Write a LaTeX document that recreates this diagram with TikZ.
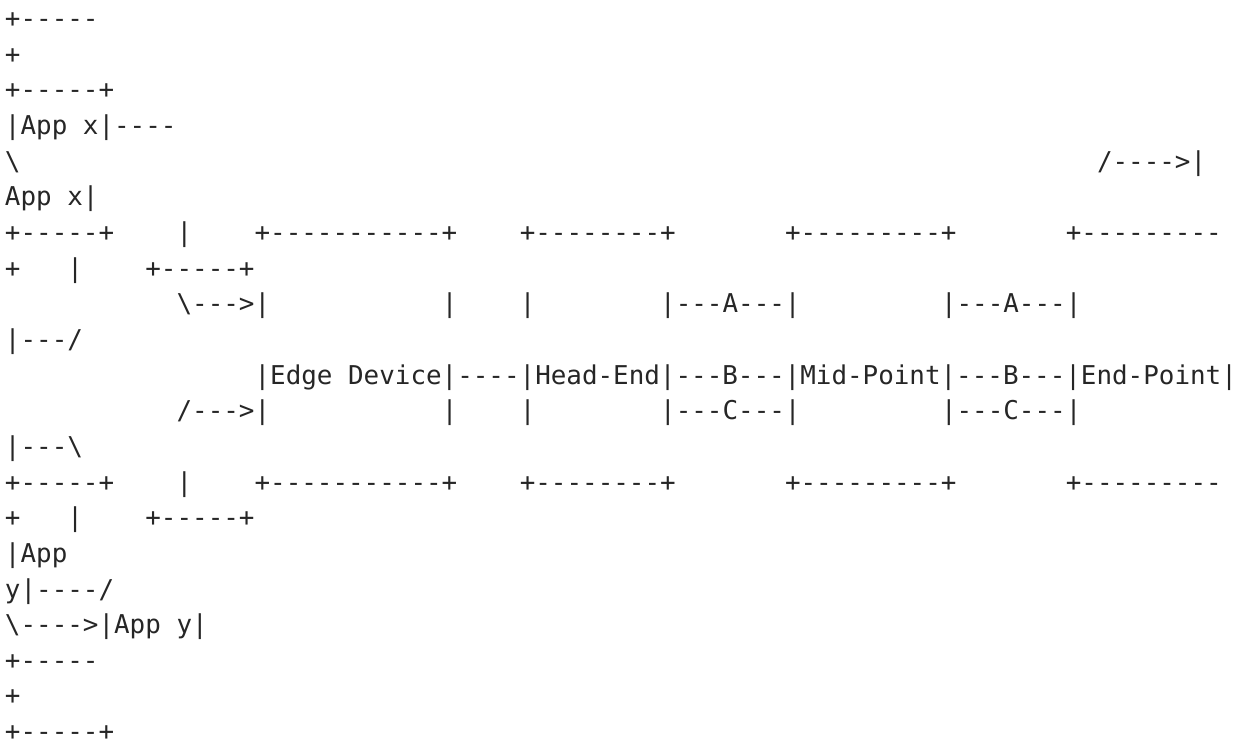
\documentclass[tikz,border=0pt]{standalone}
\usepackage{fontspec}
\setmonofont{DejaVu Sans Mono}
\begin{document}
\begin{tikzpicture}[x=1pt,y=1pt,
  asc/.style={anchor=base west,inner sep=0pt,outer sep=0pt,
    font=\ttfamily\fontsize{25.9}{30}\selectfont,text=black!85}]
\useasboundingbox (0,0) rectangle (1238,-742);
\newcommand\asciiseg[4]{\node[asc] (#1) at ({5.0+15.6*#2},{-27.6-35.65*(#3-1)}) {#4};}
% top wrapped lines
\asciiseg{a1}{0}{1}{+-----}
\asciiseg{a2}{0}{2}{+}
\asciiseg{a3}{0}{3}{+-----+}
\asciiseg{a4}{0}{4}{|App\ x|----}
\asciiseg{a5}{0}{5}{\textbackslash}
\asciiseg{a5b}{70}{5}{/---->|}
\asciiseg{a6}{0}{6}{App\ x|}
% upper box edges
\asciiseg{b1}{0}{7}{+-----+}
\asciiseg{b2}{11}{7}{|}
\asciiseg{b3}{16}{7}{+-----------+}
\asciiseg{b4}{33}{7}{+--------+}
\asciiseg{b5}{50}{7}{+---------+}
\asciiseg{b6}{68}{7}{+---------}
\asciiseg{c1}{0}{8}{+}
\asciiseg{c2}{4}{8}{|}
\asciiseg{c3}{9}{8}{+-----+}
% row A
\asciiseg{d1}{11}{9}{\textbackslash--->|}
\asciiseg{d2}{28}{9}{|}
\asciiseg{d3}{33}{9}{|}
\asciiseg{d4}{42}{9}{|---A---|}
\asciiseg{d5}{60}{9}{|---A---|}
\asciiseg{e1}{0}{10}{|---/}
% row B
\asciiseg{f1}{16}{11}{|Edge\ Device|----|Head-End|---B---|Mid-Point|---B---|End-Point|}
% row C
\asciiseg{g1}{11}{12}{/--->|}
\asciiseg{g2}{28}{12}{|}
\asciiseg{g3}{33}{12}{|}
\asciiseg{g4}{42}{12}{|---C---|}
\asciiseg{g5}{60}{12}{|---C---|}
\asciiseg{h1}{0}{13}{|---\textbackslash}
% lower box edges
\asciiseg{i1}{0}{14}{+-----+}
\asciiseg{i2}{11}{14}{|}
\asciiseg{i3}{16}{14}{+-----------+}
\asciiseg{i4}{33}{14}{+--------+}
\asciiseg{i5}{50}{14}{+---------+}
\asciiseg{i6}{68}{14}{+---------}
\asciiseg{j1}{0}{15}{+}
\asciiseg{j2}{4}{15}{|}
\asciiseg{j3}{9}{15}{+-----+}
% bottom wrapped lines
\asciiseg{k1}{0}{16}{|App}
\asciiseg{k2}{0}{17}{y|----/}
\asciiseg{k3}{0}{18}{\textbackslash---->|App\ y|}
\asciiseg{k4}{0}{19}{+-----}
\asciiseg{k5}{0}{20}{+}
\asciiseg{k6}{0}{21}{+-----+}
\end{tikzpicture}
\end{document}
